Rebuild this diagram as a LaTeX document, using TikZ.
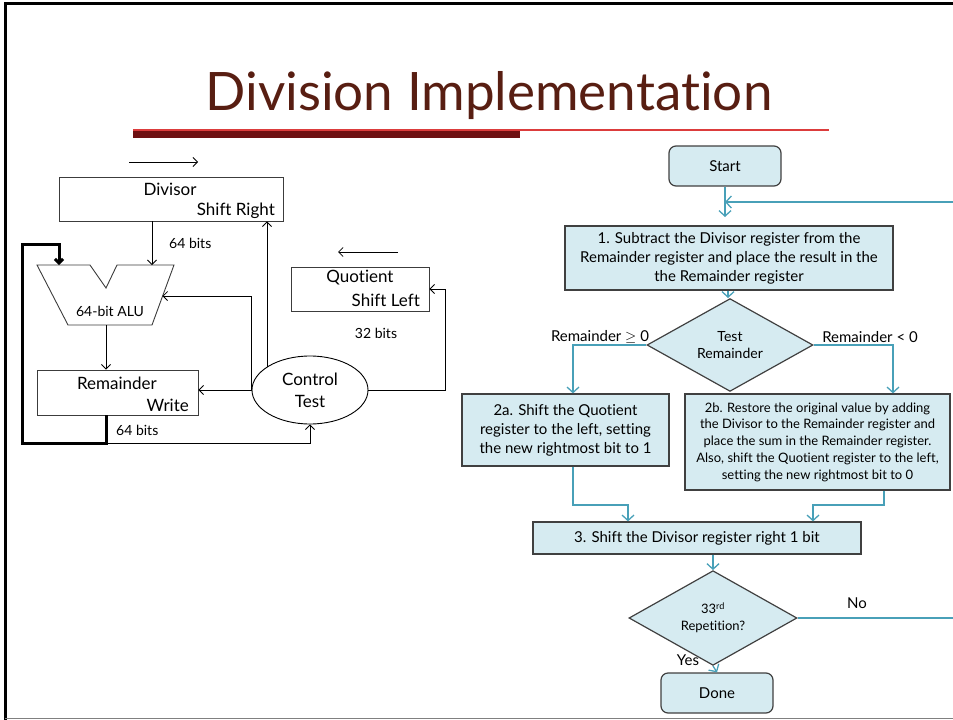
\documentclass[tikz,border=0pt]{standalone}
\usepackage{fontspec}
\setmainfont{Lato}[Ligatures={NoCommon}]
\usetikzlibrary{shapes.geometric,calc,arrows.meta}

\definecolor{titlebrown}{RGB}{88,30,18}
\definecolor{bardark}{RGB}{110,16,18}
\definecolor{barlight}{RGB}{220,60,60}
\definecolor{flowfill}{RGB}{214,235,241}
\definecolor{flowedge}{RGB}{64,64,64}
\definecolor{flowline}{RGB}{72,160,184}
\definecolor{regedge}{RGB}{60,60,60}

\newcommand{\fs}[2]{\fontsize{#1}{#2}\selectfont}

\begin{document}
\begin{tikzpicture}[x=1pt,y=-1pt,
  regbox/.style={draw=regedge,line width=0.9pt,minimum width=#1,inner sep=0pt},
  reglabel/.style={inner sep=0pt,font=\fs{17}{20}},
  bitlabel/.style={inner sep=0pt,font=\fs{14}{16}},
  wire/.style={draw=black,line width=0.8pt},
  warr/.style={wire,-{Straight Barb[length=4.5pt,width=9pt]}},
  thickarr/.style={draw=black,line width=3pt,-{Straight Barb[length=4pt,width=8pt]}},
  flowbox/.style={draw=flowedge,line width=1.2pt,fill=flowfill,inner sep=0pt,align=center},
  termbox/.style={flowbox,rounded corners=7pt,minimum width=112pt,minimum height=40pt,font=\fs{15}{17}},
  decision/.style={diamond,draw=flowedge,line width=1.2pt,fill=flowfill,inner sep=0pt,align=center},
  fline/.style={draw=flowline,line width=1.3pt},
  farr/.style={fline,-{Straight Barb[length=5.5pt,width=12pt]}},
  flabel/.style={inner sep=0pt,font=\fs{15}{17}}]

\useasboundingbox (0,0) rectangle (953,720);

% slide frame
\draw[line width=3pt,black] (5.5,720) -- (5.5,3.5) -- (953,3.5);
\draw[line width=1.5pt,gray] (5,718.5) -- (953,718.5);

% title and rule
\node[anchor=base,inner sep=0pt,text=titlebrown,font=\fs{53}{60}] (title) at (489,110) {Division Implementation};
\fill[bardark] (133,129.5) rectangle (520,137.5);
\draw[barlight,line width=1.2pt] (133,130) -- (829,130);

% ---------------- datapath ----------------
\node[regbox=224pt,minimum height=44pt] (divisor) at (171,199) {};
\node[reglabel] (divname) at (170,189) {Divisor};
\node[reglabel,anchor=east] (divop) at (275,211) {Shift Right};

\node[regbox=161pt,minimum height=45pt] (rem) at (117.5,392.5) {};
\node[reglabel] (remname) at (117,383) {Remainder};
\node[reglabel,anchor=east] (remop) at (189,405) {Write};

\node[regbox=138pt,minimum height=44pt] (quot) at (360,289) {};
\node[reglabel] (quotname) at (360,278) {Quotient};
\node[reglabel,anchor=east] (quotop) at (420,300) {Shift Left};

\node[ellipse,draw=black,line width=0.9pt,minimum width=116pt,minimum height=68pt,
      inner sep=0pt,align=center,font=\fs{17}{22}] (ctrl) at (310,390) {Control\\Test};

% ALU outline with its input and output points
\coordinate (aluA) at (37,265);
\coordinate (aluin1) at (59,265);
\coordinate (notchL) at (90,265);
\coordinate (notchB) at (106,288);
\coordinate (notchR) at (117,265);
\coordinate (aluin2) at (152,265);
\coordinate (aluB) at (174,265);
\coordinate (aluC) at (152,325);
\coordinate (aluout) at (106,325);
\coordinate (aluD) at (68,325);
\coordinate (aluside) at (162.5,296);
\draw[regedge,line width=0.9pt] (aluA) -- (notchL) -- (notchB) -- (notchR) -- (aluB) -- (aluC) -- (aluD) -- cycle;
\node[bitlabel] (aluname) at (110,311) {64-bit ALU};

% direction arrows above the shift registers
\coordinate (dirR1) at (129,162);
\coordinate (dirR2) at (198,162);
\coordinate (dirL1) at (398,252);
\coordinate (dirL2) at (338,252);
\draw[warr] (dirR1) -- (dirR2);
\draw[warr] (dirL1) -- (dirL2);

% data paths
\draw[warr] (divisor.south -| aluin2) -- (aluin2);
\node[bitlabel,anchor=west] (bits1) at (169,243) {64 bits};
\draw[warr] (aluout) -- (aluout |- rem.north);

\coordinate (fbcorner) at (106,443);
\draw[thickarr] (rem.south -| fbcorner) -- (fbcorner) -- (22,443) -- (22,244) -- (59,244) -- (aluin1);
\draw[warr] (fbcorner) -| (ctrl.south);
\node[bitlabel,anchor=west] (bits2) at (116,430) {64 bits};

% control signals
\draw[warr] (ctrl.west) -- (ctrl.west -| rem.east);
\draw[warr] (ctrl.west) |- (aluside);
\path (ctrl.center) ++(-43,-23) coordinate (ctrlup);
\draw[warr] (ctrlup) -- (ctrlup |- divisor.south);
\draw[warr] (ctrl.east) -- ++(77,0) |- (quot.east);
\node[bitlabel] (bits3) at (376,333) {32 bits};

% ---------------- flowchart ----------------
\node[termbox] (start) at (725,166) {Start};
\node[flowbox,minimum width=328pt,minimum height=64pt,font=\fs{15}{19}] (step1) at (729,258)
  {1. Subtract the Divisor register from the\\Remainder register and place the result in the\\the Remainder register};
\node[decision,minimum width=166pt,minimum height=66pt,font=\fs{14}{17}] (test) at (730,345) {Test\\Remainder};
\node[flowbox,minimum width=207pt,minimum height=72pt,font=\fs{15}{19}] (step2a) at (565.5,430)
  {2a. Shift the Quotient\\register to the left, setting\\the new rightmost bit to 1};
\node[flowbox,minimum width=265pt,minimum height=96pt,font=\fs{13}{16.8}] (step2b) at (817.5,442)
  {2b. Restore the original value by adding\\the Divisor to the Remainder register and\\place the sum in the Remainder register.\\Also, shift the Quotient register to the left,\\setting the new rightmost bit to 0};
\node[flowbox,minimum width=328pt,minimum height=32pt,font=\fs{15}{17}] (step3) at (697,538)
  {3. Shift the Divisor register right 1 bit};
\node[decision,minimum width=168pt,minimum height=63pt,font=\fs{13}{17}] (rep) at (713,618) {33\textsuperscript{rd}\\Repetition?};
\node[termbox] (done) at (717,693) {Done};

\coordinate (merge) at (725,202);
\coordinate (startend) at (725,217);
\draw[farr] (start.south) -- (startend);
\draw[farr] (rep.east) -- (958,618) -- (958,202) -- (merge);
\node[flabel] (nolabel) at (857,603) {No};

\draw[farr] (step1.south -| 728,0) -- (test.north -| 728,0);

\coordinate (in2a) at ($(step2a.north)+(7.5,0)$);
\coordinate (in2b) at ($(step2b.north)+(75.5,0)$);
\draw[farr] (test.west) -| (in2a);
\draw[farr] (test.east) -| (in2b);
\node[flabel] (gelabel) at (600,337) {Remainder $\geq$ 0};
\node[flabel] (ltlabel) at (870,337) {Remainder < 0};

\coordinate (out2a) at ($(step2a.south)+(7.5,0)$);
\coordinate (out2b) at ($(step2b.south)+(66.5,0)$);
\coordinate (in3a) at ($(step3.north)+(-69,0)$);
\coordinate (in3b) at ($(step3.north)+(116,0)$);
\draw[farr] (out2a) -- (out2a |- 0,505) -| (in3a);
\draw[farr] (out2b) -- (out2b |- 0,505) -| (in3b);

\draw[farr] (rep.north |- step3.south) -- (rep.north);
\draw[farr] (rep.south) -- (done.north);
\node[flabel] (yeslabel) at (688,660) {Yes};

\end{tikzpicture}
\end{document}
